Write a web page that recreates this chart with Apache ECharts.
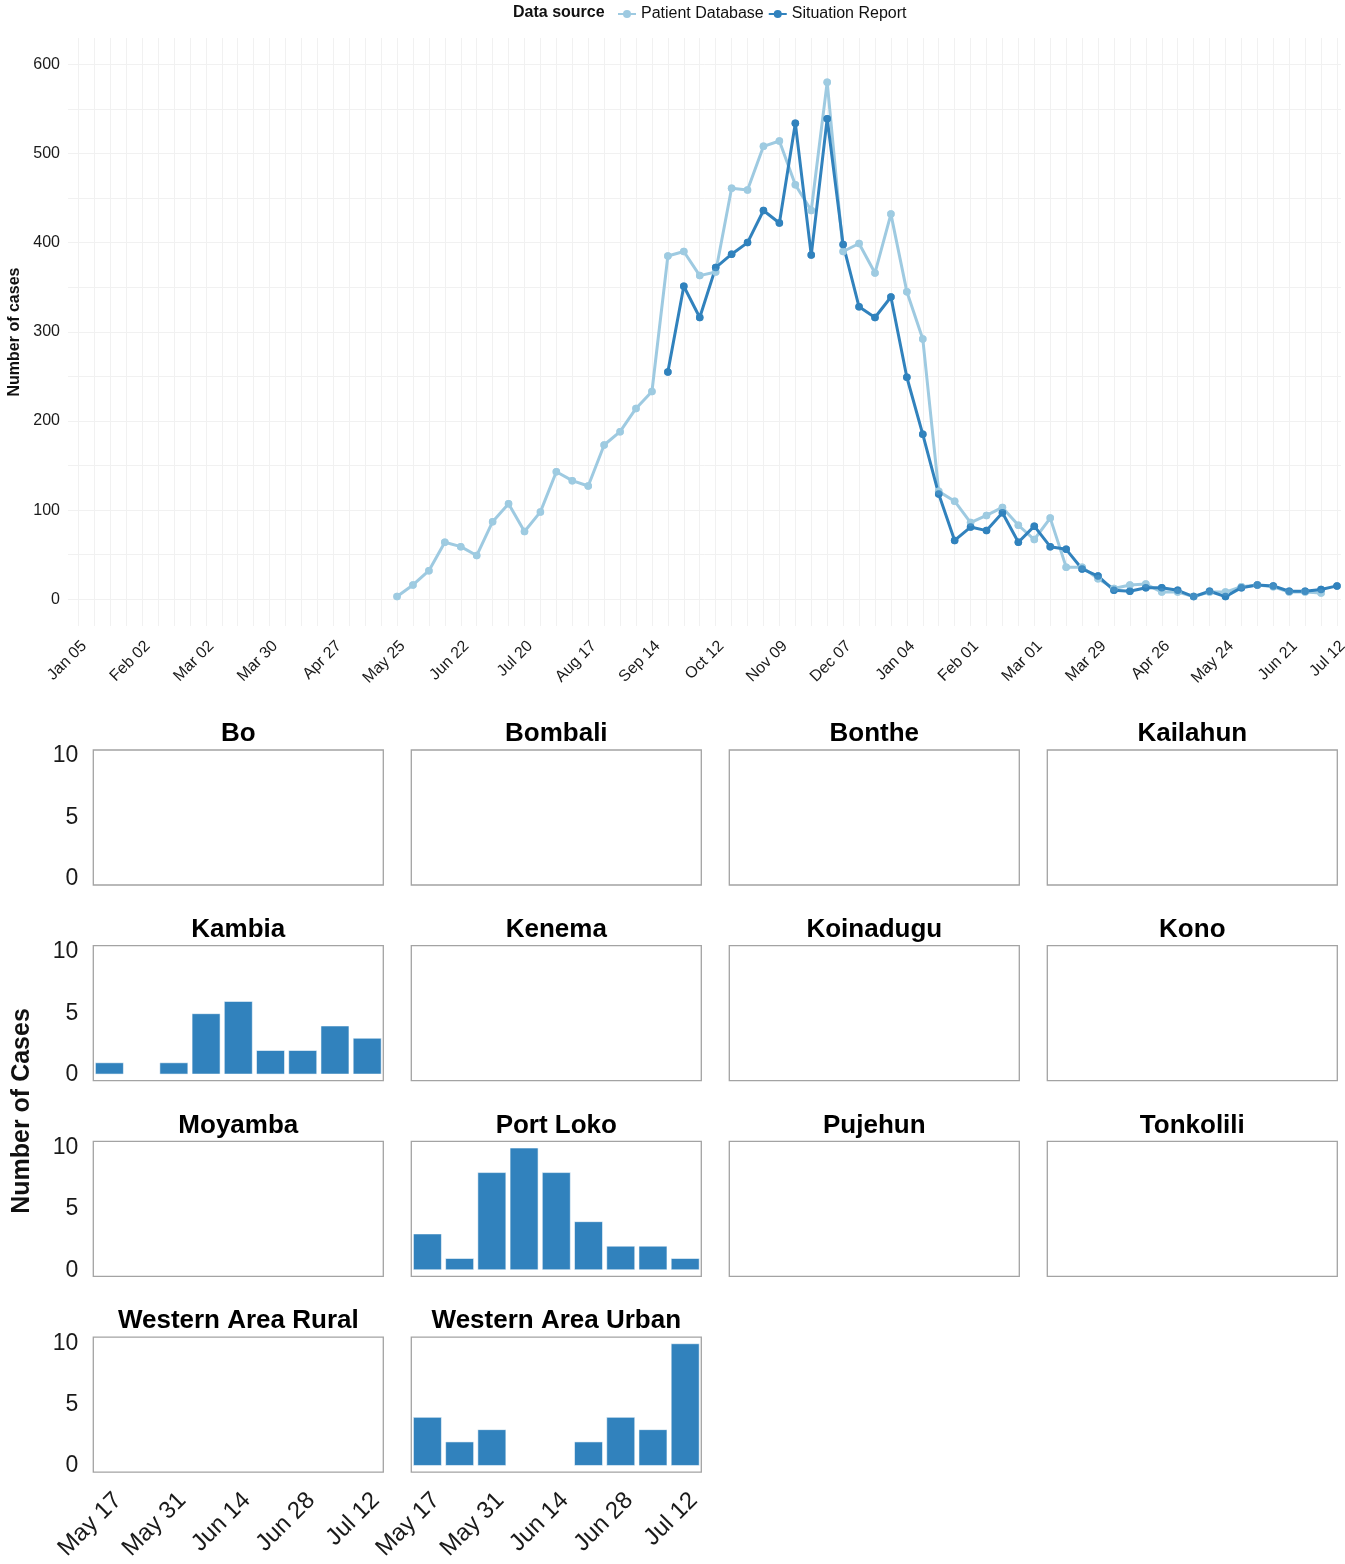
<!DOCTYPE html>
<html><head><meta charset="utf-8">
<script src="https://cdn.jsdelivr.net/npm/echarts@6/dist/echarts.min.js"></script>
<style>html,body{margin:0;padding:0;background:#fff}#c{width:1345px;height:1564px}</style>
</head><body><div id="c"></div>
<script>
// ---------- DATA ----------
const MONTHS = ['Jan','Feb','Mar','Apr','May','Jun','Jul','Aug','Sep','Oct','Nov','Dec'];
const topWeekStart = '2014-01-05';
const topWeekCount = 80;              // weekly categories Jan 05 2014 .. Jul 12 2015
const seriesNames = ['Patient Database', 'Situation Report'];

const patientDatabaseStart = '2014-05-25';
const patientDatabase = [
  3, 16, 32, 64, 59, 49, 87, 107, 76, 98, 143, 133, 127, 173, 188, 214, 233,
  385, 390, 363, 367, 461, 459, 508, 514, 465, 436, 580, 390, 399, 366, 432,
  345, 292, 121, 110, 86, 94, 103, 83, 67, 91, 36, 36, 23, 12, 16, 17, 8, 8, 3, 8, 8, 14, 16, 14, 8, 8, 7
];
const situationReportStart = '2014-09-21';
const situationReport = [
  255, 351, 316, 372, 387, 400, 436, 422, 534, 386, 539, 398, 328, 316, 339,
  249, 185, 118, 66, 81, 77, 97, 64, 82, 59, 56, 34, 26, 10, 9, 13, 13, 10, 3, 9, 3, 13, 16, 15, 9, 9, 11, 15
];

const districtWeekStart = '2015-05-17';
const districtWeekCount = 9;
const districts = ['Bo','Bombali','Bonthe','Kailahun','Kambia','Kenema','Koinadugu','Kono',
  'Moyamba','Port Loko','Pujehun','Tonkolili','Western Area Rural','Western Area Urban'];
const bo               = [0,0,0,0,0,0,0,0,0];
const bombali          = [0,0,0,0,0,0,0,0,0];
const bonthe           = [0,0,0,0,0,0,0,0,0];
const kailahun         = [0,0,0,0,0,0,0,0,0];
const kambia           = [1,0,1,5,6,2,2,4,3];
const kenema           = [0,0,0,0,0,0,0,0,0];
const koinadugu        = [0,0,0,0,0,0,0,0,0];
const kono             = [0,0,0,0,0,0,0,0,0];
const moyamba          = [0,0,0,0,0,0,0,0,0];
const portLoko         = [3,1,8,10,8,4,2,2,1];
const pujehun          = [0,0,0,0,0,0,0,0,0];
const tonkolili        = [0,0,0,0,0,0,0,0,0];
const westernAreaRural = [0,0,0,0,0,0,0,0,0];
const westernAreaUrban = [4,2,3,0,0,2,4,3,10];
const districtCases = [bo,bombali,bonthe,kailahun,kambia,kenema,koinadugu,kono,
  moyamba,portLoko,pujehun,tonkolili,westernAreaRural,westernAreaUrban];

// ---------- helpers ----------
function weekLabels(start, n) {
  const d0 = new Date(start + 'T00:00:00Z');
  const out = [];
  for (let i = 0; i < n; i++) {
    const d = new Date(d0.getTime() + i * 7 * 86400000);
    out.push(MONTHS[d.getUTCMonth()] + ' ' + String(d.getUTCDate()).padStart(2, '0'));
  }
  return out;
}
function weekIndex(start, date) {
  return Math.round((new Date(date + 'T00:00:00Z') - new Date(start + 'T00:00:00Z')) / (7 * 86400000));
}
function pad(values, offset, n) {
  const out = new Array(n).fill('-');
  values.forEach((v, i) => { out[offset + i] = v; });
  return out;
}

const topWeeks = weekLabels(topWeekStart, topWeekCount);
const pdData = pad(patientDatabase, weekIndex(topWeekStart, patientDatabaseStart), topWeekCount);
const srData = pad(situationReport, weekIndex(topWeekStart, situationReportStart), topWeekCount);
const districtWeeks = weekLabels(districtWeekStart, districtWeekCount);

const FONT = '"Liberation Sans", Arial, sans-serif';
const LIGHT = '#9ecae1', DARK = '#3182bd';
const GRIDLINE = '#f1f1f1';

// ---------- layout ----------
const grids = [
  { left: 68, top: 38, width: 1273, height: 588, outerBoundsMode: 'none' },     // background grid
  { left: 78.4, top: 38, width: 1258.6, height: 588, outerBoundsMode: 'none' }  // data grid
];
const xAxes = [
  { gridIndex: 0, type: 'value', min: 0, max: 1, show: false },
  { gridIndex: 1, type: 'category', data: topWeeks, boundaryGap: false,
    axisLine: { show: false }, axisTick: { show: false },
    splitLine: { show: true, interval: 0, lineStyle: { color: GRIDLINE, width: 1 } },
    axisLabel: { interval: (i) => i % 4 === 0 || i === topWeekCount - 1, rotate: 45, verticalAlign: 'top',
      fontSize: 16, color: '#1a1a1a', margin: 12, fontFamily: FONT } }
];
const yAxes = [
  { gridIndex: 0, type: 'value', min: -30, max: 629.5, splitNumber: 13, minInterval: 50, maxInterval: 50,
    axisLine: { show: false }, axisTick: { show: false },
    splitLine: { show: true, showMinLine: false, showMaxLine: false, lineStyle: { color: GRIDLINE, width: 1 } },
    axisLabel: { formatter: (v) => (v >= 0 && v % 100 === 0) ? String(v) : '', fontSize: 16, color: '#1a1a1a',
      margin: 8, fontFamily: FONT } },
  { gridIndex: 1, type: 'value', min: -30, max: 629.5, show: false }
];
const series = [
  { name: seriesNames[0], type: 'line', xAxisIndex: 1, yAxisIndex: 1, data: pdData, clip: false,
    symbol: 'circle', symbolSize: 7.5, showSymbol: true, z: 2,
    lineStyle: { color: LIGHT, width: 3 }, itemStyle: { color: LIGHT } },
  { name: seriesNames[1], type: 'line', xAxisIndex: 1, yAxisIndex: 1, data: srData, clip: false,
    symbol: 'circle', symbolSize: 7.5, showSymbol: true, z: 2,
    lineStyle: { color: DARK, width: 3 }, itemStyle: { color: DARK } },
  { name: seriesNames[0], type: 'scatter', xAxisIndex: 1, yAxisIndex: 1, data: pdData, clip: false,
    symbol: 'circle', symbolSize: 7.5, z: 3, itemStyle: { color: LIGHT } },
  { name: seriesNames[1], type: 'scatter', xAxisIndex: 1, yAxisIndex: 1, data: srData, clip: false,
    symbol: 'circle', symbolSize: 7.5, z: 4, itemStyle: { color: DARK } }
];
const graphics = [
  { type: 'text', left: 513, top: 5, style: { text: 'Data source', font: 'bold 16px ' + FONT, fill: '#111' } },
  { type: 'text', x: 15, y: 332, rotation: Math.PI / 2,
    style: { text: 'Number of cases', font: 'bold 16px ' + FONT, fill: '#111',
      align: 'center', verticalAlign: 'middle', textAlign: 'center', textVerticalAlign: 'middle' } },
  { type: 'text', x: 22, y: 1111, rotation: Math.PI / 2,
    style: { text: 'Number of Cases', font: 'bold 25px ' + FONT, fill: '#111',
      align: 'center', verticalAlign: 'middle', textAlign: 'center', textVerticalAlign: 'middle' } }
];

const colLeft = [93.3, 411.3, 729.3, 1047.3];
const panelW = 290, panelH = 135, rowTop0 = 750, rowPitch = 195.7;
districts.forEach((name, i) => {
  const col = i % 4, row = Math.floor(i / 4);
  const left = colLeft[col], top = rowTop0 + row * rowPitch;
  const gi = grids.length;
  grids.push({ left, top, width: panelW, height: panelH, show: true, outerBoundsMode: 'none',
    borderColor: '#a3a3a3', borderWidth: 1.3, backgroundColor: '#fff' });
  xAxes.push({ gridIndex: gi, type: 'category', data: districtWeeks, boundaryGap: true,
    axisLine: { show: false }, axisTick: { show: false }, splitLine: { show: false },
    axisLabel: { show: row === 3, interval: 1, rotate: 45, verticalAlign: 'top',
      fontSize: 24, color: '#1a1a1a', margin: 16, fontFamily: FONT } });
  yAxes.push({ gridIndex: gi, type: 'value', min: -0.5, max: 10.5, splitNumber: 2, minInterval: 5, maxInterval: 5,
    axisLine: { show: false }, axisTick: { show: false }, splitLine: { show: false },
    axisLabel: { show: col === 0, formatter: (v) => (v >= 0 && v % 5 === 0) ? String(v) : '',
      fontSize: 23, color: '#1a1a1a', margin: 15, fontFamily: FONT } });
  series.push({ name: name, type: 'bar', xAxisIndex: gi, yAxisIndex: gi, data: districtCases[i],
    barCategoryGap: '10%', itemStyle: { color: DARK, borderColor: 'rgba(255,255,255,0.55)', borderWidth: 1 } });
  graphics.push({ type: 'text', x: left + panelW / 2, y: top - 16,
    style: { text: name, font: 'bold 26px ' + FONT, fill: '#000',
      align: 'center', verticalAlign: 'middle', textAlign: 'center', textVerticalAlign: 'middle' } });
});

const chart = echarts.init(document.getElementById('c'), null, { renderer: 'canvas' });
chart.setOption({
  animation: false,
  backgroundColor: '#fff',
  textStyle: { fontFamily: FONT },
  legend: { data: seriesNames, left: 612, top: 1, itemWidth: 18, itemHeight: 10, itemGap: 4,
    textStyle: { fontSize: 16, color: '#111', fontFamily: FONT } },
  grid: grids, xAxis: xAxes, yAxis: yAxes, series: series, graphic: graphics
});
</script></body></html>
